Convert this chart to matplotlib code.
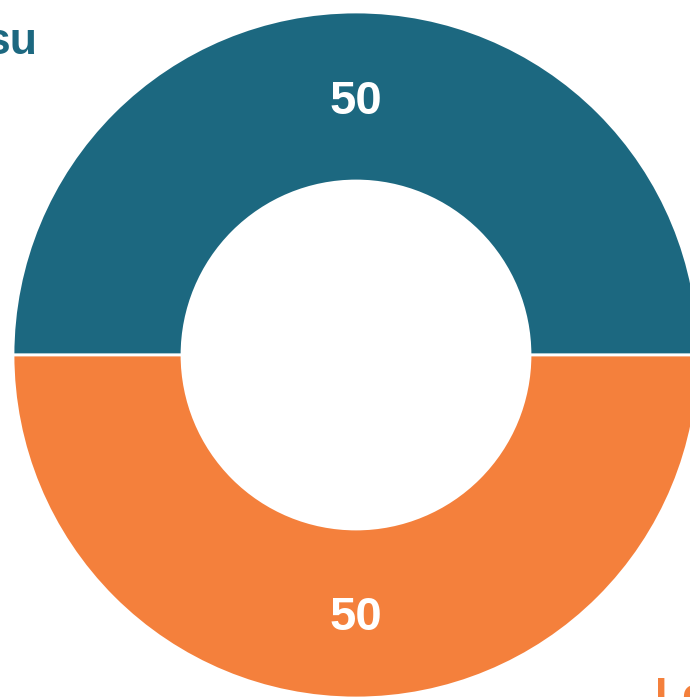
import matplotlib
matplotlib.use("Agg")
import matplotlib.pyplot as plt
import numpy as np

# valeurs du donut
labels = ["su", "Le"]
values = [50, 50]
colors = ["#1c6880", "#f4803c"]

plt.rcParams["font.family"] = ["Liberation Sans", "DejaVu Sans"]

fig = plt.figure(figsize=(6.9, 6.97), dpi=100)
ax = fig.add_axes([0, 0, 1, 1])

wedges, texts = ax.pie(
    values,
    colors=colors,
    startangle=0,
    counterclock=True,
    radius=343,
    center=(356, 342),
    wedgeprops=dict(width=169, edgecolor="white", linewidth=2),
)

# etiquettes de valeur au milieu de l'anneau
for w, v in zip(wedges, values):
    ang = np.deg2rad((w.theta1 + w.theta2) / 2)
    r = 343 - 169 / 2
    ax.text(356 + r * np.cos(ang), 342 + r * np.sin(ang) - 17, str(v),
            color="white", fontsize=34, fontweight="bold",
            ha="center", va="baseline")

# etiquettes externes (coupees par le bord)
ax.text(37, 697 - 54, labels[0], color=colors[0], fontsize=32,
        fontweight="bold", ha="right", va="baseline")
ax.text(655, 697 - 709, labels[1], color=colors[1], fontsize=32,
        fontweight="bold", ha="left", va="baseline")

ax.set_xlim(0, 690)
ax.set_ylim(0, 697)
ax.set_aspect("equal")
ax.axis("off")

fig.savefig("out.png", dpi=100)
